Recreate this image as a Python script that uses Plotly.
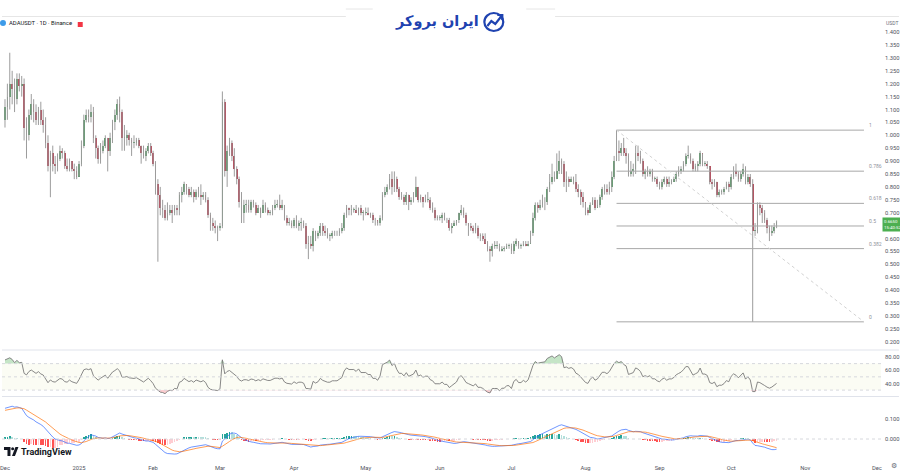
import numpy as np
import pandas as pd
import plotly.graph_objects as go

# ---------------- data (ADAUSDT daily) ----------------
# off-screen history (Oct-Nov 2024), used only to warm up RSI / MACD
prior_close = [0.36,0.35,0.34,0.35,0.35,0.36,0.35,0.35,0.35,0.35,0.35,0.36,0.36,0.37,0.37,0.36,
               0.36,0.36,0.36,0.36,0.35,0.34,0.34,0.35,0.33,0.33,0.34,0.35,0.36,0.35,0.34,
               0.33,0.32,0.32,0.31,0.33,0.36,0.37,0.39,0.45,0.58,0.60,0.56,0.55,0.52,0.56,
               0.73,0.73,0.77,0.77,0.73,0.87,0.98,1.09,0.99,0.97,0.91,0.97,0.98,1.02,1.06]

start_date = "2024-12-01"

close = [
    # Dec 2024
    1.11,1.15,1.20,1.18,1.14,1.22,1.19,1.20,1.03,1.00,1.08,1.12,1.09,1.06,1.10,1.06,1.04,0.97,0.88,0.93,
    0.89,0.88,0.91,0.94,0.93,0.88,0.87,0.90,0.87,0.86,0.84,
    # Jan 2025
    0.89,0.96,1.06,1.08,1.07,1.09,0.99,0.95,0.91,0.94,0.96,0.99,0.94,0.99,1.05,1.08,1.12,1.09,0.99,0.99,
    1.00,0.98,0.97,0.97,0.98,0.96,0.93,0.92,0.94,0.96,0.93,
    # Feb
    0.89,0.81,0.77,0.72,0.71,0.68,0.70,0.71,0.70,0.72,0.71,0.77,0.78,0.81,0.79,0.77,0.78,0.76,0.78,0.77,
    0.76,0.77,0.75,0.69,0.66,0.65,0.64,0.64,
    # Mar
    0.65,1.13,0.86,0.94,0.97,0.92,0.87,0.83,0.74,0.70,0.73,0.73,0.71,0.74,0.73,0.70,0.72,0.70,0.73,0.71,
    0.70,0.70,0.72,0.73,0.73,0.72,0.73,0.68,0.66,0.66,0.65,
    # Apr
    0.67,0.65,0.66,0.66,0.65,0.58,0.58,0.57,0.63,0.61,0.62,0.65,0.63,0.62,0.61,0.61,0.62,0.62,0.62,0.63,
    0.64,0.69,0.72,0.71,0.71,0.71,0.70,0.72,0.70,0.70,
    # May
    0.70,0.69,0.69,0.67,0.67,0.66,0.68,0.77,0.78,0.80,0.83,0.80,0.83,0.79,0.76,0.76,0.74,0.77,0.74,0.75,
    0.76,0.80,0.75,0.76,0.74,0.75,0.75,0.72,0.71,0.68,0.68,
    # Jun
    0.68,0.69,0.67,0.67,0.64,0.65,0.66,0.67,0.70,0.71,0.69,0.66,0.65,0.64,0.63,0.64,0.61,0.61,0.60,0.58,
    0.56,0.55,0.57,0.57,0.57,0.55,0.56,0.56,0.57,0.57,
    # Jul
    0.55,0.58,0.59,0.57,0.57,0.58,0.57,0.58,0.62,0.68,0.73,0.72,0.73,0.74,0.74,0.79,0.82,0.84,0.83,0.86,
    0.90,0.89,0.82,0.83,0.82,0.83,0.82,0.79,0.78,0.76,0.74,
    # Aug
    0.71,0.70,0.73,0.75,0.72,0.73,0.76,0.79,0.79,0.78,0.80,0.84,0.90,0.94,0.93,0.95,0.93,0.92,0.85,0.86,
    0.87,0.93,0.92,0.90,0.85,0.86,0.85,0.86,0.83,0.83,0.81,
    # Sep
    0.80,0.82,0.83,0.81,0.82,0.82,0.83,0.85,0.86,0.87,0.89,0.92,0.92,0.90,0.87,0.88,0.89,0.93,0.89,0.89,
    0.88,0.82,0.81,0.82,0.77,0.78,0.78,0.79,0.81,0.80,
    # Oct
    0.84,0.86,0.85,0.83,0.85,0.87,0.82,0.84,0.81,0.63,0.63,0.73,0.72,0.70,0.67,0.64,0.62,0.63,0.645,0.665,
]

high = [
    1.14,1.20,1.32,1.25,1.22,1.24,1.24,1.23,1.22,1.07,1.10,1.16,1.14,1.12,1.11,1.13,1.10,1.07,1.00,0.94,
    0.96,0.92,0.93,0.96,0.95,0.94,0.91,0.91,0.90,0.89,0.88,
    0.90,0.98,1.08,1.10,1.10,1.12,1.11,1.00,0.96,0.97,0.98,1.00,0.99,1.01,1.06,1.10,1.14,1.15,1.10,1.04,
    1.02,1.01,0.99,1.00,0.99,0.99,0.96,0.96,0.95,0.97,0.97,
    0.94,0.90,0.83,0.80,0.75,0.73,0.74,0.73,0.73,0.73,0.73,0.78,0.80,0.82,0.81,0.80,0.80,0.79,0.79,0.80,
    0.81,0.78,0.78,0.76,0.70,0.68,0.67,0.65,
    0.66,1.17,1.14,0.96,0.99,0.98,0.95,0.88,0.84,0.78,0.75,0.75,0.75,0.75,0.75,0.74,0.73,0.72,0.75,0.74,
    0.72,0.71,0.73,0.75,0.75,0.77,0.75,0.73,0.69,0.68,0.67,
    0.68,0.69,0.67,0.68,0.67,0.66,0.61,0.61,0.64,0.63,0.63,0.66,0.66,0.65,0.64,0.62,0.63,0.63,0.63,0.64,
    0.66,0.70,0.73,0.72,0.73,0.72,0.73,0.72,0.73,0.71,
    0.72,0.72,0.70,0.70,0.68,0.67,0.69,0.78,0.80,0.81,0.85,0.86,0.86,0.84,0.80,0.78,0.77,0.78,0.77,0.76,
    0.78,0.84,0.80,0.77,0.76,0.77,0.78,0.76,0.74,0.72,0.69,
    0.69,0.70,0.70,0.68,0.68,0.66,0.67,0.67,0.70,0.73,0.72,0.70,0.66,0.66,0.65,0.66,0.65,0.62,0.62,0.62,
    0.59,0.57,0.58,0.59,0.59,0.58,0.57,0.57,0.58,0.58,
    0.58,0.59,0.60,0.59,0.58,0.59,0.59,0.59,0.63,0.70,0.74,0.74,0.75,0.77,0.76,0.80,0.85,0.89,0.86,0.93,
    0.94,0.91,0.90,0.86,0.84,0.84,0.84,0.85,0.81,0.79,0.78,
    0.74,0.72,0.74,0.76,0.76,0.75,0.77,0.80,0.81,0.81,0.82,0.86,0.92,1.02,0.98,0.97,0.99,0.95,0.93,0.90,
    0.89,0.96,0.96,0.94,0.91,0.87,0.88,0.87,0.87,0.84,0.84,
    0.82,0.83,0.84,0.84,0.84,0.83,0.84,0.86,0.88,0.88,0.90,0.93,0.96,0.93,0.91,0.89,0.90,0.94,0.93,0.90,
    0.90,0.88,0.83,0.83,0.82,0.79,0.79,0.80,0.82,0.82,
    0.85,0.88,0.89,0.86,0.86,0.89,0.88,0.85,0.85,0.83,0.66,0.74,0.74,0.73,0.71,0.68,0.65,0.65,0.66,0.67,
]

low = [
    1.03,1.06,1.10,1.12,1.09,1.12,1.17,1.15,0.98,0.91,0.98,1.06,1.05,1.04,1.04,1.04,1.01,0.95,0.86,0.76,
    0.86,0.85,0.86,0.90,0.91,0.87,0.86,0.86,0.86,0.83,0.83,
    0.84,0.88,0.95,1.05,1.05,1.05,0.97,0.91,0.89,0.89,0.93,0.95,0.86,0.92,0.97,1.02,1.06,1.05,0.94,0.94,
    0.96,0.96,0.92,0.95,0.96,0.95,0.89,0.91,0.90,0.93,0.92,
    0.88,0.77,0.51,0.69,0.68,0.67,0.67,0.69,0.66,0.69,0.69,0.69,0.74,0.77,0.77,0.76,0.76,0.74,0.75,0.76,
    0.73,0.75,0.74,0.68,0.63,0.63,0.62,0.59,
    0.63,0.64,0.84,0.80,0.92,0.90,0.84,0.81,0.72,0.66,0.66,0.70,0.70,0.70,0.72,0.69,0.70,0.68,0.70,0.70,
    0.69,0.69,0.69,0.71,0.72,0.71,0.71,0.67,0.65,0.65,0.64,
    0.64,0.64,0.63,0.63,0.64,0.56,0.52,0.56,0.55,0.59,0.60,0.61,0.61,0.61,0.60,0.59,0.60,0.61,0.61,0.61,
    0.62,0.63,0.68,0.69,0.69,0.70,0.70,0.69,0.69,0.67,
    0.69,0.69,0.68,0.66,0.65,0.65,0.65,0.67,0.76,0.77,0.79,0.77,0.78,0.78,0.75,0.75,0.73,0.73,0.71,0.73,
    0.74,0.76,0.74,0.74,0.72,0.74,0.74,0.71,0.70,0.67,0.67,
    0.67,0.66,0.67,0.66,0.63,0.62,0.65,0.65,0.66,0.69,0.68,0.65,0.61,0.63,0.62,0.62,0.60,0.59,0.59,0.58,
    0.55,0.51,0.53,0.56,0.56,0.55,0.55,0.55,0.56,0.56,
    0.54,0.54,0.57,0.56,0.56,0.57,0.57,0.57,0.58,0.61,0.67,0.70,0.71,0.72,0.71,0.73,0.78,0.81,0.82,0.83,
    0.85,0.85,0.80,0.78,0.80,0.82,0.81,0.78,0.76,0.73,0.72,
    0.69,0.69,0.70,0.73,0.71,0.72,0.72,0.75,0.77,0.77,0.77,0.78,0.83,0.90,0.90,0.92,0.92,0.89,0.84,0.84,
    0.84,0.85,0.90,0.89,0.84,0.83,0.84,0.84,0.82,0.82,0.80,
    0.79,0.79,0.81,0.80,0.80,0.81,0.82,0.82,0.84,0.85,0.86,0.88,0.91,0.89,0.86,0.86,0.86,0.88,0.88,0.88,
    0.87,0.81,0.79,0.80,0.76,0.76,0.77,0.77,0.79,0.78,
    0.79,0.83,0.84,0.82,0.82,0.84,0.81,0.81,0.80,0.277,0.61,0.62,0.69,0.66,0.66,0.62,0.59,0.61,0.62,0.64,
]

month_ticks = ["2024-12-01","2025-01-01","2025-02-01","2025-03-01","2025-04-01","2025-05-01","2025-06-01",
               "2025-07-01","2025-08-01","2025-09-01","2025-10-01","2025-11-01","2025-12-01"]
month_labels = ["Dec","2025","Feb","Mar","Apr","May","Jun","Jul","Aug","Sep","Oct","Nov","Dec"]

# 0.650 is hidden behind the last-price tag in the reference
price_ticks = [0.20,0.25,0.30,0.35,0.40,0.45,0.50,0.55,0.60,0.70,0.75,0.80,0.85,0.90,0.95,
               1.00,1.05,1.10,1.15,1.20,1.25,1.30,1.35,1.40]
rsi_ticks = [20, 40, 60, 80]
macd_ticks = [0.0, 0.1]

fib_levels = [0, 0.382, 0.5, 0.618, 0.786, 1]
fib_start = "2025-08-14"     # swing high candle
fib_low_day = "2025-10-10"   # swing low candle
fib_end = "2025-11-25 14:00"

title_text = "ADAUSDT · 1D · Binance"
last_price_text = "0.6650"
countdown_text = "15:40:52"
logo_text = "ایران بروکر"

# ---------------- derived ----------------
dates = pd.date_range(start_date, periods=len(close), freq="D")
opens = [prior_close[-1]] + close[:-1]
o = np.array(opens); c = np.array(close); h = np.array(high); l = np.array(low)
h = np.maximum(h, np.maximum(o, c)); l = np.minimum(l, np.minimum(o, c))

allc = pd.Series(prior_close + close, dtype=float)
d = allc.diff()
ag = d.clip(lower=0).ewm(alpha=1/14, adjust=False).mean()
al = (-d.clip(upper=0)).ewm(alpha=1/14, adjust=False).mean()
rsi_all = 100 - 100 / (1 + ag / al)
ema12 = allc.ewm(span=12, adjust=False).mean()
ema26 = allc.ewm(span=26, adjust=False).mean()
macd_all = ema12 - ema26
sig_all = macd_all.ewm(span=9, adjust=False).mean()
hist_all = macd_all - sig_all
n = len(close)
rsi = rsi_all.values[-n:]
macd = macd_all.values[-n:]
sig = sig_all.values[-n:]
hist_full = hist_all.values
hist = hist_full[-n:]
hcol = []
for i in range(len(hist_full) - n, len(hist_full)):
    v, p = hist_full[i], hist_full[i - 1]
    if v >= 0:
        hcol.append("#26a69a" if v > p else "#b2dfdb")
    else:
        hcol.append("#ff5252" if v < p else "#ffcdd2")

UP, DN = "#5a9c69", "#b94658"
body_col = [UP if cc >= oo else DN for oo, cc in zip(o, c)]
body = c - o
body = np.where(np.abs(body) < 0.003, np.where(body >= 0, 0.003, -0.003), body)

wx, wy = [], []
for dt, lo, hi in zip(dates, l, h):
    wx += [dt, dt, None]; wy += [lo, hi, None]

# ---------------- geometry helpers (pixel -> paper) ----------------
W, H, PW = 900, 471, 882
def px(x): return x / PW
def py(y): return 1 - y / H

FONT = "Roboto"
fig = go.Figure()

# main pane
fig.add_trace(go.Scatter(x=wx, y=wy, mode="lines", line=dict(color="#9c9c9c", width=1),
                         yaxis="y", hoverinfo="skip", showlegend=False))
fig.add_trace(go.Bar(x=dates, y=body, base=o, marker=dict(color=body_col, line=dict(width=0)),
                     width=0.7 * 86400000, yaxis="y", showlegend=False, hoverinfo="skip"))

# RSI pane
fig.add_trace(go.Scatter(x=dates, y=[70] * n, mode="lines", line=dict(width=0), yaxis="y2",
                         showlegend=False, hoverinfo="skip"))
fig.add_trace(go.Scatter(x=dates, y=np.maximum(rsi, 70), mode="lines", line=dict(width=0), yaxis="y2",
                         fill="tonexty", fillcolor="rgba(76,175,80,0.32)", showlegend=False, hoverinfo="skip"))
fig.add_trace(go.Scatter(x=dates, y=[30] * n, mode="lines", line=dict(width=0), yaxis="y2",
                         showlegend=False, hoverinfo="skip"))
fig.add_trace(go.Scatter(x=dates, y=np.minimum(rsi, 30), mode="lines", line=dict(width=0), yaxis="y2",
                         fill="tonexty", fillcolor="rgba(242,54,69,0.25)", showlegend=False, hoverinfo="skip"))
fig.add_trace(go.Scatter(x=dates, y=rsi, mode="lines", line=dict(color="#7a7a7a", width=0.9), yaxis="y2",
                         showlegend=False, hoverinfo="skip"))

# MACD pane
fig.add_trace(go.Bar(x=dates, y=hist, marker=dict(color=hcol, line=dict(width=0)),
                     width=0.7 * 86400000, yaxis="y3", showlegend=False, hoverinfo="skip"))
fig.add_trace(go.Scatter(x=dates, y=macd, mode="lines", line=dict(color="#2962ff", width=0.9), yaxis="y3",
                         opacity=0.75, showlegend=False, hoverinfo="skip"))
fig.add_trace(go.Scatter(x=dates, y=sig, mode="lines", line=dict(color="#ff6d00", width=0.9), yaxis="y3",
                         opacity=0.75, showlegend=False, hoverinfo="skip"))

shapes = []
# pane separators and top border
for yy in (350, 396.5):
    shapes.append(dict(type="line", xref="paper", yref="paper", x0=0, x1=px(W), y0=py(yy), y1=py(yy),
                       line=dict(color="#e0e3eb", width=1)))
shapes.append(dict(type="line", xref="paper", yref="paper", x0=0, x1=px(W), y0=py(16.5), y1=py(16.5),
                   line=dict(color="#e6e6e6", width=1)))
# RSI band and dashed levels
shapes.append(dict(type="rect", xref="paper", yref="y2", x0=0, x1=1, y0=30, y1=70,
                   fillcolor="rgba(225,238,180,0.15)", line=dict(width=0), layer="below"))
for lv in (70, 50, 30):
    shapes.append(dict(type="line", xref="paper", yref="y2", x0=0, x1=1, y0=lv, y1=lv,
                       line=dict(color="#d6d8dd", width=1, dash="3px,3px")))
shapes.append(dict(type="line", xref="paper", yref="y3", x0=0, x1=1, y0=0, y1=0,
                   line=dict(color="#d6d8dd", width=1, dash="3px,3px")))

# Fibonacci retracement
i_hi = list(dates).index(pd.Timestamp(fib_start))
i_lo = list(dates).index(pd.Timestamp(fib_low_day))
fib_hi, fib_lo = h[i_hi], l[i_lo]
for lv in fib_levels:
    p = fib_lo + (fib_hi - fib_lo) * lv
    shapes.append(dict(type="line", xref="x", yref="y", x0=fib_start, x1=fib_end, y0=p, y1=p,
                       line=dict(color="#a8a8a8", width=1)))
shapes.append(dict(type="line", xref="x", yref="y", x0=fib_start, x1=fib_end, y0=fib_hi, y1=fib_lo,
                   line=dict(color="#d2d2d2", width=1, dash="dot")))

# header: logo backdrop + icon
shapes.append(dict(type="rect", xref="paper", yref="paper", x0=px(345), x1=px(555), y0=py(33), y1=py(0),
                   fillcolor="white", line=dict(width=0)))
for a, b in ((345, 372), (526, 555)):
    shapes.append(dict(type="line", xref="paper", yref="paper", x0=px(a), x1=px(b), y0=py(9), y1=py(9),
                       line=dict(color="#e6e6e6", width=1)))
shapes.append(dict(type="circle", xref="paper", yref="paper", x0=px(484), x1=px(503), y0=py(31), y1=py(13),
                   line=dict(color="#1f43b0", width=2.2)))
pts = [(487, 26), (491, 21), (495, 24), (502, 15)]
shapes.append(dict(type="path", xref="paper", yref="paper",
                   path="M " + " L ".join(f"{px(a):.5f},{py(b):.5f}" for a, b in pts),
                   line=dict(color="#1f43b0", width=2.2)))
arr = [(497, 15), (502, 15), (502, 20)]
shapes.append(dict(type="path", xref="paper", yref="paper",
                   path="M " + " L ".join(f"{px(a):.5f},{py(b):.5f}" for a, b in arr),
                   line=dict(color="#1f43b0", width=2.2)))
# title icons
shapes.append(dict(type="circle", xref="paper", yref="paper", x0=px(-2), x1=px(4), y0=py(26), y1=py(20),
                   fillcolor="#3d9be9", line=dict(width=0)))
shapes.append(dict(type="rect", xref="paper", yref="paper", x0=px(76), x1=px(81), y0=py(27), y1=py(22),
                   fillcolor="#f23645", line=dict(width=0)))
# TradingView logo glyph
tv = [(2, 447), (8.5, 447), (8.5, 456), (5.5, 456), (5.5, 450), (2, 450)]
shapes.append(dict(type="path", xref="paper", yref="paper",
                   path="M " + " L ".join(f"{px(a):.5f},{py(b):.5f}" for a, b in tv) + " Z",
                   fillcolor="#131722", line=dict(width=0)))
shapes.append(dict(type="circle", xref="paper", yref="paper", x0=px(9.2), x1=px(12.2), y0=py(450.2), y1=py(447.2),
                   fillcolor="#131722", line=dict(width=0)))
tri = [(10, 456), (13.5, 447), (16.5, 447), (13, 456)]
shapes.append(dict(type="path", xref="paper", yref="paper",
                   path="M " + " L ".join(f"{px(a):.5f},{py(b):.5f}" for a, b in tri) + " Z",
                   fillcolor="#131722", line=dict(width=0)))

ann = []
ann.append(dict(xref="paper", yref="paper", x=px(5), y=py(23.5), text=title_text, showarrow=False,
                xanchor="left", yanchor="middle", font=dict(family=FONT, size=5.9, color="#131722")))
ann.append(dict(xref="paper", yref="paper", x=px(481), y=py(22), text="<b>" + logo_text + "</b>",
                showarrow=False, xanchor="right", yanchor="middle",
                font=dict(family="DejaVu Sans", size=14.5, color="#1f43b0")))
ann.append(dict(xref="paper", yref="paper", x=px(885), y=py(23), text="USDT", showarrow=False,
                xanchor="left", yanchor="middle", font=dict(family=FONT, size=5, color="#6a6d78")))
ann.append(dict(xref="paper", yref="paper", x=px(17.5), y=py(451.5), text="<b>TradingView</b>", showarrow=False,
                xanchor="left", yanchor="middle", font=dict(family=FONT, size=9, color="#131722")))
ann.append(dict(xref="paper", yref="paper", x=px(895), y=py(465.5), text="⚙", showarrow=False,
                xanchor="center", yanchor="middle", font=dict(family="DejaVu Sans", size=7, color="#6a6d78")))
ann.append(dict(xref="paper", yref="y", x=px(883.5), y=c[-1], yshift=-3, text=last_price_text + "<br>" + countdown_text,
                showarrow=False, xanchor="left", yanchor="middle", align="left", bgcolor="#4caf50",
                borderpad=1, font=dict(family=FONT, size=4.4, color="white")))
for lv in fib_levels:
    p = fib_lo + (fib_hi - fib_lo) * lv
    ann.append(dict(xref="paper", yref="y", x=px(868), y=p, yshift=5, text=f"{lv:g}", showarrow=False,
                    xanchor="left", yanchor="middle", font=dict(family=FONT, size=5, color="#8f929b")))

axis_font = dict(family=FONT, size=5.8, color="#50535e")
x_start = pd.Timestamp(start_date) - pd.Timedelta(days=3 / 2.397)
x_end = pd.Timestamp(start_date) + pd.Timedelta(days=(PW - 3) / 2.397)

fig.update_layout(
    width=W, height=H, margin=dict(l=0, r=W - PW, t=0, b=0),
    paper_bgcolor="white", plot_bgcolor="white", showlegend=False, barmode="overlay",
    hovermode=False, shapes=shapes, annotations=ann, bargap=0,
    xaxis=dict(type="date", range=[x_start, x_end], anchor="y3", showgrid=False, zeroline=False,
               showline=False, ticks="", tickvals=month_ticks, ticktext=month_labels,
               tickfont=axis_font, ticklabelstandoff=5, ticklabeloverflow="allow"),
    yaxis=dict(domain=[py(349), py(16.5)], range=[0.2 - (349 - 341.7) / 258, 0.2 + (341.7 - 16.5) / 258],
               side="right", anchor="x", showgrid=False, zeroline=False, ticks="",
               tickvals=price_ticks, ticktext=[f"{v:.3f}" for v in price_ticks], tickfont=axis_font,
               ticklabelstandoff=3),
    yaxis2=dict(domain=[py(396.5), py(350.5)], range=[80 - (396.5 - 357) * 60 / 39.7, 80 + (357 - 350.5) * 60 / 39.7],
                side="right", anchor="x", showgrid=False, zeroline=False, ticks="",
                tickvals=rsi_ticks, ticktext=[f"{v:.2f}" for v in rsi_ticks], tickfont=axis_font,
                ticklabelstandoff=3),
    yaxis3=dict(domain=[py(458), py(397.5)], range=[-(458 - 439) / 200, (439 - 397.5) / 200],
                side="right", anchor="x", showgrid=False, zeroline=False, ticks="",
                tickvals=macd_ticks, ticktext=[f"{v:.3f}" for v in macd_ticks], tickfont=axis_font,
                ticklabelstandoff=3),
)

fig.write_html("out.html", config={"displayModeBar": False, "staticPlot": True},
               post_script="document.body.style.margin='0';document.body.style.overflow='hidden';")
